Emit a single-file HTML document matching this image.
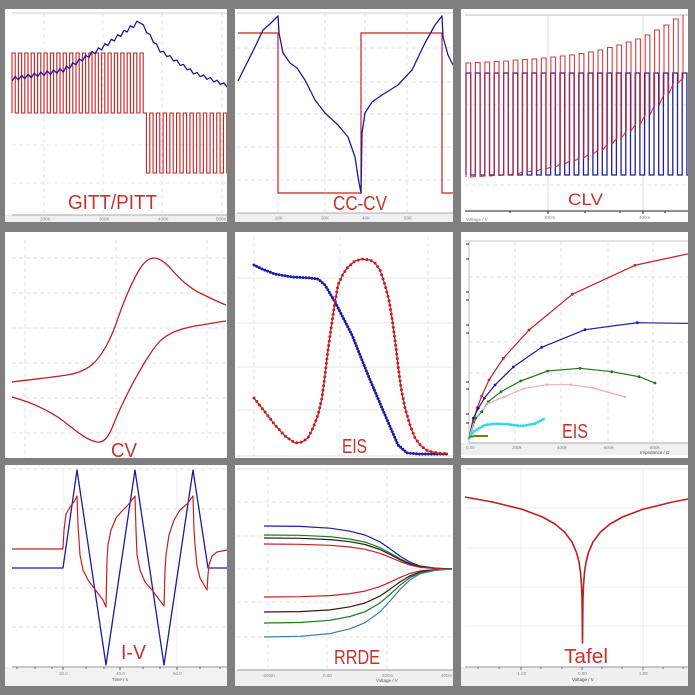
<!DOCTYPE html>
<html><head><meta charset="utf-8"><style>
html,body{margin:0;padding:0;background:#7f7f7f;width:695px;height:695px;overflow:hidden}
svg{display:block}
.t{font-family:"Liberation Sans",sans-serif;fill:#c8322d;font-size:20px}
.s{font-family:"Liberation Sans",sans-serif;fill:#888;font-size:4.5px}
</style></head><body>
<svg width="695" height="695" viewBox="0 0 695 695" xmlns="http://www.w3.org/2000/svg">
<rect width="695" height="695" fill="#7f7f7f"/>

<!-- Panel 1 GITT/PITT -->
<svg x="5" y="9" width="222" height="213" viewBox="5 9 222 213">
<rect x="5" y="9" width="222" height="213" fill="#fff"/>
<line x1="12" y1="13" x2="227" y2="13" stroke="#ccc"/>
<g stroke="#e6e6e6" stroke-dasharray="4 3" fill="none">
<line x1="12" y1="145" x2="227" y2="145"/><line x1="12" y1="183" x2="227" y2="183"/>
<line x1="44" y1="13" x2="44" y2="215"/><line x1="103" y1="13" x2="103" y2="215"/><line x1="162" y1="13" x2="162" y2="215"/><line x1="222" y1="13" x2="222" y2="215"/>
</g>
<rect x="5" y="215" width="222" height="7" fill="#f0f0f0"/>
<line x1="12" y1="215" x2="227" y2="215" stroke="#aaa"/>
<text class="s" x="40" y="220.5">200K</text><text class="s" x="99" y="220.5">300K</text><text class="s" x="158" y="220.5">400K</text><text class="s" x="216" y="220.5">500K</text>
<path fill="none" stroke="#c82020" stroke-width="1.1" d="M12,113v-60h3.2v60h3.2v-60h3.2v60h3.2v-60h3.2v60h3.2v-60h3.2v60h3.2v-60h3.2v60h3.2v-60h3.2v60h3.2v-60h3.2v60h3.2v-60h3.2v60h3.2v-60h3.2v60h3.2v-60h3.2v60h3.2v-60h3.2v60h3.2v-60h3.2v60h3.2v-60h3.2v60h3.2v-60h3.2v60h3.2v-60h3.2v60h3.2v-60h3.2v60h3.2v-60h3.2v60h3.2v-60h3.2v60h3.2v-60h3.2v60h3.2v-60h3.2v60h3.2v-60h3.2v60h3.2v60h3.35v-60h3.35v60h3.35v-60h3.35v60h3.35v-60h3.35v60h3.35v-60h3.35v60h3.35v-60h3.35v60h3.35v-60h3.35v60h3.35v-60h3.35v60h3.35v-60h3.35v60h3.35v-60h3.35v60h3.35v-60h3.35v60h3.35v-60h3.35v60h3.35v-60h3.35v60h3.35v-60h3.35v60h3.35v-60h3.35"/>
<path fill="none" stroke="#1c1c96" stroke-width="1.3" stroke-linejoin="round" d="M12,81l3.2,-4.55l3.2,3.45l3.2,-4.55l3.2,3.45l3.2,-4.55l3.2,3.45l3.2,-4.55l3.2,3.45l3.2,-4.55l3.2,3.45l3.2,-4.55l3.2,3.45l3.2,-4.55l3.2,3.45l3.2,-4.55l3.2,3.45l3.2,-5.85l3.2,2.15l3.2,-5.85l3.2,2.15l3.2,-5.85l3.2,2.15l3.2,-5.85l3.2,2.15l3.2,-5.85l3.2,2.15l3.2,-5.85l3.2,2.15l3.2,-6.25l3.2,1.75l3.2,-6.25l3.2,1.75l3.2,-6.25l3.2,1.75l3.2,-6.25l3.2,1.75l3.2,-6.25l3.2,1.75l3.2,-6.25l3.2,1.75l3.35,1.85l3.35,7.85l3.35,1.85l3.35,7.85l3.35,1.85l3.35,7.85l3.35,-0.8l3.35,5.2l3.35,-0.8l3.35,5.2l3.35,-0.8l3.35,5.2l3.35,-0.8l3.35,5.2l3.35,-0.8l3.35,5.2l3.35,-1.7l3.35,4.3l3.35,-1.7l3.35,4.3l3.35,-1.7l3.35,4.3l3.35,-1.7l3.35,4.3l3.35,-1.7l3.35,4.3"/>
<text class="t" x="68" y="209" textLength="89" lengthAdjust="spacingAndGlyphs">GITT/PITT</text>
</svg>

<!-- Panel 2 CC-CV -->
<svg x="235" y="9" width="218" height="213" viewBox="235 9 218 213">
<rect x="235" y="9" width="218" height="213" fill="#fff"/>
<line x1="237" y1="13" x2="453" y2="13" stroke="#ccc"/>
<g stroke="#e2e2e2" stroke-dasharray="4 3" fill="none">
<line x1="237" y1="48" x2="453" y2="48"/><line x1="237" y1="82" x2="453" y2="82"/><line x1="237" y1="114" x2="453" y2="114"/><line x1="237" y1="147" x2="453" y2="147"/><line x1="237" y1="180" x2="453" y2="180"/>
<line x1="278" y1="13" x2="278" y2="213"/><line x1="325" y1="13" x2="325" y2="213"/><line x1="365" y1="13" x2="365" y2="213"/><line x1="407" y1="13" x2="407" y2="213"/>
</g>
<rect x="235" y="213" width="218" height="9" fill="#f0f0f0"/>
<line x1="237" y1="213" x2="453" y2="213" stroke="#aaa"/>
<text class="s" x="275" y="219.5">20K</text><text class="s" x="321" y="219.5">30K</text><text class="s" x="362" y="219.5">40K</text><text class="s" x="404" y="219.5">50K</text>
<path fill="none" stroke="#c82020" stroke-width="1.2" d="M238,33H278V193H361V33H442V193H453"/>
<polyline fill="none" stroke="#1c1c96" stroke-width="1.3" stroke-linejoin="round" points="238,81 245,67 255,47 263,30 270,24 278,16 279,33 283,53 290,63 297,68 305,80 315,100 325,113 338,125 348,137 355,157 358,177 361,193 362,133 365,113 372,102 382,95 398,85 412,70 425,43 435,25 442,16 443,37 448,55 453,65"/>
<text class="t" x="333" y="210" textLength="54" lengthAdjust="spacingAndGlyphs">CC-CV</text>
</svg>

<!-- Panel 3 CLV -->
<svg x="461" y="9" width="227" height="213" viewBox="461 9 227 213">
<rect x="461" y="9" width="227" height="213" fill="#fff"/>
<line x1="465" y1="15" x2="688" y2="15" stroke="#bbb"/>
<g stroke="#e2e2e2" stroke-dasharray="4 3" fill="none">
<line x1="465" y1="105" x2="688" y2="105"/><line x1="465" y1="185" x2="688" y2="185"/>
</g>
<g stroke="#e0e0e0" fill="none"><line x1="548" y1="15" x2="548" y2="211"/><line x1="643" y1="15" x2="643" y2="211"/></g>
<line x1="465" y1="211" x2="688" y2="211" stroke="#222"/>
<g stroke="#222"><line x1="548" y1="211" x2="548" y2="214"/><line x1="643" y1="211" x2="643" y2="214"/><line x1="510" y1="211" x2="510" y2="213"/><line x1="585" y1="211" x2="585" y2="213"/><line x1="620" y1="211" x2="620" y2="213"/><line x1="665" y1="211" x2="665" y2="213"/></g>
<text class="s" x="544" y="219">300m</text><text class="s" x="639" y="219">400m</text><text class="s" x="466" y="221">Voltage / V</text>
<path fill="none" stroke="#2020a0" stroke-width="1.3" d="M466,175v-102h4.7v102h4.7v-102h4.7v102h4.7v-102h4.7v102h4.7v-102h4.7v102h4.7v-102h4.7v102h4.7v-102h4.7v102h4.7v-102h4.7v102h4.7v-102h4.7v102h4.7v-102h4.7v102h4.7v-102h4.7v102h4.7v-102h4.7v102h4.7v-102h4.7v102h4.7v-102h4.7v102h4.7v-102h4.7v102h4.7v-102h4.7v102h4.7v-102h4.7v102h4.7v-102h4.7v102h4.7v-102h4.7v102h4.7v-102h4.7v102h4.7v-102h4.7v102h4.7v-102h4.7v102h4.7v-102h4.7v102h4.7v-102h4.7v102h4.7v-102h4.7v102h4.7"/>
<path fill="none" stroke="#d02828" stroke-width="1.1" stroke-opacity="0.9" d="M466,177 V63 H470.7 V177 L475.4,176.5 V62.5 H480.1 V176.5 L484.9,176 V62 H489.6 V176 L494.3,175.5 V61.5 H499 V175.5 L503.7,175 V61 H508.4 V175 L513.2,174 V60 H517.9 V174 L522.6,172 V59.5 H527.3 V172 L532,171 V59 H536.7 V171 L541.4,169 V58 H546.1 V169 L550.9,167 V57 H555.6 V167 L560.3,164 V56 H565 V164 L569.7,161 V55 H574.4 V161 L579.2,158 V53.5 H583.9 V158 L588.6,154 V52 H593.3 V154 L598,150 V50 H602.7 V150 L607.5,144 V47.5 H612.2 V144 L616.9,138 V45 H621.6 V138 L626.3,131 V42 H631 V131 L635.7,124 V39 H640.4 V124 L645.2,115 V35 H649.9 V115 L654.6,105 V30 H659.3 V105 L664,94 V25 H668.7 V94 L673.5,83 V19 H678.2 V83 L683,78 V15"/>
<text class="t" x="568" y="205" textLength="35" lengthAdjust="spacingAndGlyphs" style="font-size:17px">CLV</text>
</svg>

<!-- Panel 4 CV -->
<svg x="5" y="232" width="222" height="226" viewBox="5 232 222 226">
<rect x="5" y="232" width="222" height="226" fill="#fff"/>
<g stroke="#e0e0e0" stroke-dasharray="4 3" fill="none">
<line x1="12" y1="258" x2="227" y2="258"/><line x1="12" y1="293" x2="227" y2="293"/><line x1="12" y1="328" x2="227" y2="328"/><line x1="12" y1="363" x2="227" y2="363"/><line x1="12" y1="398" x2="227" y2="398"/><line x1="12" y1="433" x2="227" y2="433"/>
<line x1="25" y1="240" x2="25" y2="458"/><line x1="116" y1="240" x2="116" y2="458"/><line x1="207" y1="240" x2="207" y2="438"/>
</g>
<path fill="none" stroke="#c02020" stroke-width="1.3" stroke-linejoin="round" d="M12,382 C35,379 55,377 67,375 C78,373 87,370 95,362 C104,352 110,340 116,324 C122,306 130,286 138,272 C143,263 148,258 154,258 C160,258 166,263 172,270 C180,279 188,287 200,293 C210,298 218,302 226,305"/>
<path fill="none" stroke="#c02020" stroke-width="1.3" stroke-linejoin="round" d="M12,397 C30,402 48,410 62,420 C75,430 86,440 97,442 C104,443 108,437 112,428 C118,413 126,396 134,381 C142,367 150,352 160,341 C170,332 180,329 195,326 C208,324 218,322 226,321"/>
<text class="t" x="111" y="457" textLength="26" lengthAdjust="spacingAndGlyphs">CV</text>
</svg>

<!-- Panel 5 EIS Bode -->
<svg x="235" y="232" width="218" height="226" viewBox="235 232 218 226">
<rect x="235" y="232" width="218" height="226" fill="#fff"/>
<g stroke="#e6e6e6" fill="none">
<line x1="237" y1="278" x2="453" y2="278"/><line x1="237" y1="323" x2="453" y2="323"/><line x1="237" y1="367" x2="453" y2="367"/><line x1="237" y1="410" x2="453" y2="410"/>
<line x1="254" y1="236" x2="254" y2="456" stroke-dasharray="4 3"/><line x1="340" y1="236" x2="340" y2="456" stroke-dasharray="4 3"/><line x1="428" y1="236" x2="428" y2="456" stroke-dasharray="4 3"/>
</g>
<line x1="237" y1="456" x2="453" y2="456" stroke="#ddd"/>
<g fill="none" stroke-linejoin="round">
<polyline stroke="#1c1ca0" stroke-width="1.2" points="254,265 262,269 275,274 292,277 310,278 318,279 325,285 335,302 352,335 368,375 385,415 398,445 407,453 420,454 448,454"/>
<polyline stroke="#1c1ca0" stroke-width="3" stroke-linecap="round" stroke-dasharray="0 3" points="254,265 262,269 275,274 292,277 310,278 318,279 325,285 335,302 352,335 368,375 385,415 398,445 407,453 420,454 448,454"/>
<polyline stroke="#c82020" stroke-width="1.2" points="254,398 265,412 275,425 285,436 295,443 302,442 308,438 313,428 318,415 322,398 325,375 328,350 332,322 335,302 338,285 343,274 348,267 355,261 362,259 370,260 375,263 380,270 385,285 389,300 392,318 395,340 398,365 401,388 405,408 410,425 415,438 421,446 428,451 438,453 448,454"/>
<polyline stroke="#c82020" stroke-width="3" stroke-linecap="round" stroke-dasharray="0 4.5" points="254,398 265,412 275,425 285,436 295,443 302,442 308,438 313,428 318,415 322,398 325,375 328,350 332,322 335,302 338,285 343,274 348,267 355,261 362,259 370,260 375,263 380,270 385,285 389,300 392,318 395,340 398,365 401,388 405,408 410,425 415,438 421,446 428,451 438,453 448,454"/>
</g>
<text class="t" x="342" y="453" textLength="25" lengthAdjust="spacingAndGlyphs">EIS</text>
</svg>

<!-- Panel 6 EIS Nyquist -->
<svg x="461" y="232" width="227" height="226" viewBox="461 232 227 226">
<rect x="461" y="232" width="227" height="226" fill="#fff"/>
<line x1="465" y1="241" x2="688" y2="241" stroke="#ccc"/>
<g stroke="#e2e2e2" stroke-dasharray="4 3" fill="none">
<line x1="469" y1="277" x2="688" y2="277"/><line x1="469" y1="342" x2="688" y2="342"/><line x1="469" y1="373" x2="688" y2="373"/>
<line x1="515" y1="241" x2="515" y2="443"/><line x1="561" y1="241" x2="561" y2="443"/><line x1="608" y1="241" x2="608" y2="443"/><line x1="653" y1="241" x2="653" y2="443"/>
</g>
<line x1="469" y1="241" x2="469" y2="443" stroke="#bbb"/>
<g stroke="#222"><line x1="466" y1="244" x2="469" y2="244"/><line x1="466" y1="259" x2="469" y2="259"/><line x1="466" y1="292" x2="469" y2="292"/><line x1="466" y1="300" x2="469" y2="300"/><line x1="466" y1="325" x2="469" y2="325"/><line x1="466" y1="333" x2="469" y2="333"/><line x1="466" y1="382" x2="469" y2="382"/><line x1="466" y1="389" x2="469" y2="389"/><line x1="466" y1="414" x2="469" y2="414"/><line x1="466" y1="423" x2="469" y2="423"/></g>
<rect x="461" y="443" width="227" height="12" fill="#f0f0f0"/>
<line x1="469" y1="443" x2="688" y2="443" stroke="#aaa"/>
<text class="s" x="466" y="449">0.00</text><text class="s" x="512" y="449">200k</text><text class="s" x="557" y="449">400k</text><text class="s" x="604" y="449">600k</text><text class="s" x="650" y="449">800k</text><text class="s" x="640" y="454" style="fill:#555">Impedance / Ω</text>
<g fill="none" stroke-width="1.2" stroke-linejoin="round">
<polyline stroke="#c82020" points="469,438.3 473.3,421.7 477.3,407.7 481.7,396 489,380 503.3,358.3 529,330 572.3,294.3 635,265.3 682.7,255 688,254"/>
<polyline stroke="#1c1ca0" points="469,438.3 473.3,418.3 478.3,408.3 484.3,398.3 495,385 513.3,367 541.7,347.3 585,329.7 637.3,322.7 682.7,323.3 688,323.3"/>
<polyline stroke="#1e7a1e" points="469,438.3 475.7,418.3 481.7,411.7 488.3,401.7 501,391.7 520.7,381 547.7,371 580,368.3 611.7,371.7 639,376.7 655,383"/>
<polyline stroke="#eab0b8" points="469,438.3 475,418.3 488.3,403.3 504.3,396.7 523.3,388.7 546.7,384.7 570.7,384.7 593.3,388 625,397"/>
<polyline stroke="#30d8e8" stroke-width="1.6" points="469,438.3 473.3,431.7 485,425 495,423.7 508.3,424.3 521.7,426 535,423.7 545,418.3"/>
<polyline stroke="#30d8e8" stroke-width="3" stroke-linecap="round" stroke-dasharray="0 3" points="469,438.3 473.3,431.7 485,425 495,423.7 508.3,424.3 521.7,426 535,423.7 545,418.3"/>
<polyline stroke="#7a7a10" stroke-width="2" points="469,437 475,436 488,436"/>
</g>
<g fill="#c82020"><circle cx="473.3" cy="421.7" r="1.4"/><circle cx="477.3" cy="407.7" r="1.4"/><circle cx="481.7" cy="396" r="1.4"/><circle cx="489" cy="380" r="1.4"/><circle cx="503.3" cy="358.3" r="1.4"/><circle cx="529" cy="330" r="1.4"/><circle cx="572.3" cy="294.3" r="1.4"/><circle cx="635" cy="265.3" r="1.4"/></g>
<g fill="#1c1ca0"><circle cx="473.3" cy="418.3" r="1.4"/><circle cx="478.3" cy="408.3" r="1.4"/><circle cx="484.3" cy="398.3" r="1.4"/><circle cx="495" cy="385" r="1.4"/><circle cx="513.3" cy="367" r="1.4"/><circle cx="541.7" cy="347.3" r="1.4"/><circle cx="585" cy="329.7" r="1.4"/><circle cx="637.3" cy="322.7" r="1.4"/></g>
<g fill="#1e7a1e"><circle cx="475.7" cy="418.3" r="1.4"/><circle cx="481.7" cy="411.7" r="1.4"/><circle cx="488.3" cy="401.7" r="1.4"/><circle cx="501" cy="391.7" r="1.4"/><circle cx="520.7" cy="381" r="1.4"/><circle cx="547.7" cy="371" r="1.4"/><circle cx="580" cy="368.3" r="1.4"/><circle cx="611.7" cy="371.7" r="1.4"/><circle cx="639" cy="376.7" r="1.4"/><circle cx="655" cy="383" r="1.4"/></g>
<g fill="#eab0b8"><circle cx="488.3" cy="403.3" r="1.2"/><circle cx="504.3" cy="396.7" r="1.2"/><circle cx="523.3" cy="388.7" r="1.2"/><circle cx="546.7" cy="384.7" r="1.2"/><circle cx="570.7" cy="384.7" r="1.2"/><circle cx="593.3" cy="388" r="1.2"/><circle cx="625" cy="397" r="1.2"/></g>
<text class="t" x="562" y="438" textLength="26" lengthAdjust="spacingAndGlyphs">EIS</text>
</svg>

<!-- Panel 7 I-V -->
<svg x="5" y="465" width="222" height="221" viewBox="5 465 222 221">
<rect x="5" y="465" width="222" height="221" fill="#fff"/>
<g stroke="#e0e0e0" stroke-dasharray="4 3" fill="none">
<line x1="12" y1="469" x2="227" y2="469"/><line x1="12" y1="509" x2="227" y2="509"/><line x1="12" y1="588" x2="227" y2="588"/><line x1="12" y1="627" x2="227" y2="627"/>
</g>
<g stroke="#eee" fill="none"><line x1="63" y1="469" x2="63" y2="667"/><line x1="177" y1="469" x2="177" y2="667"/></g>
<rect x="5" y="667" width="222" height="19" fill="#f2f2f2"/>
<line x1="12" y1="667" x2="227" y2="667" stroke="#999"/>
<g stroke="#666"><line x1="17" y1="667" x2="17" y2="669"/><line x1="35" y1="667" x2="35" y2="669"/><line x1="52" y1="667" x2="52" y2="669"/><line x1="63" y1="667" x2="63" y2="670"/><line x1="86" y1="667" x2="86" y2="669"/><line x1="104" y1="667" x2="104" y2="669"/><line x1="120" y1="667" x2="120" y2="670"/><line x1="143" y1="667" x2="143" y2="669"/><line x1="160" y1="667" x2="160" y2="669"/><line x1="177" y1="667" x2="177" y2="670"/><line x1="200" y1="667" x2="200" y2="669"/><line x1="220" y1="667" x2="220" y2="669"/></g>
<text class="s" x="59" y="675">20.0</text><text class="s" x="116" y="675">40.0</text><text class="s" x="173" y="675">60.0</text><text class="s" x="112" y="681" style="fill:#555">Time / s</text>
<path fill="none" stroke="#1c1ca0" stroke-width="1.3" stroke-linejoin="round" d="M12,568H63L77,470L106,665L135,470L164,665L193,470L208,568H227"/>
<polyline fill="none" stroke="#c82020" stroke-width="1.2" stroke-linejoin="round" points="12,549 63,549 64,530 66,514 70,507 74,502 77,496 78,525 80,555 83,570 88,580 97,592 103,600 106,607 107,560 108,545 111,530 116,518 122,511 128,505 135,496 136,530 137,555 140,570 145,582 152,590 158,598 164,606 165,570 166,555 169,535 174,520 180,510 187,504 193,496 194,530 195,545 197,566 200,578 204,585 207,590 208,575 209,565 212,556 217,552 227,550"/>
<text class="t" x="121" y="659" textLength="25" lengthAdjust="spacingAndGlyphs">I-V</text>
</svg>

<!-- Panel 8 RRDE -->
<svg x="235" y="465" width="218" height="221" viewBox="235 465 218 221">
<rect x="235" y="465" width="218" height="221" fill="#fff"/>
<line x1="237" y1="469" x2="453" y2="469" stroke="#ddd"/>
<g stroke="#e4e4e4" stroke-dasharray="4 3" fill="none">
<line x1="237" y1="502" x2="453" y2="502"/><line x1="237" y1="536" x2="453" y2="536"/><line x1="237" y1="569" x2="453" y2="569"/><line x1="237" y1="602" x2="453" y2="602"/><line x1="237" y1="637" x2="453" y2="637"/>
<line x1="268" y1="469" x2="268" y2="670"/><line x1="327" y1="469" x2="327" y2="670"/><line x1="387" y1="469" x2="387" y2="670"/>
</g>
<rect x="235" y="670" width="218" height="16" fill="#f0f0f0"/>
<line x1="237" y1="670" x2="453" y2="670" stroke="#999"/>
<text class="s" x="262" y="677">-200m</text><text class="s" x="323" y="677">0.00</text><text class="s" x="382" y="677">200m</text><text class="s" x="441" y="677">400m</text><text class="s" x="376" y="682" style="fill:#555">Voltage / V</text>
<g fill="none" stroke-width="1.2" stroke-linejoin="round">
<polyline stroke="#1c1ca0" points="264,526 300,526.4 330,528.2 350,531.2 365,535 380,541.9 390,548.8 400,556.1 410,562.1 420,566 435,568.1 452,569"/>
<polyline stroke="#1e7a1e" points="264,535 300,535.3 330,536.7 350,539.1 365,542.1 380,547.6 390,553 400,558.8 410,563.6 420,566.6 435,568.3 452,569"/>
<polyline stroke="#222" points="264,538 300,538.3 330,539.6 350,541.7 365,544.5 380,549.5 390,554.4 400,559.7 410,564 420,566.8 435,568.4 452,569"/>
<polyline stroke="#c82020" points="264,544 300,544.3 330,545.3 350,547 365,549.3 380,553.3 390,557.3 400,561.5 410,565 420,567.3 435,568.5 452,569"/>
<polyline stroke="#c82020" points="264,597 300,596.7 330,595.6 350,593.6 365,591.1 380,586.6 390,582.2 400,577.4 410,573.5 420,571 435,569.6 452,569"/>
<polyline stroke="#3a1414" points="264,612 300,611.6 330,609.9 350,606.8 365,603 380,596.1 390,589.2 400,581.9 410,575.9 420,572 435,569.9 452,569"/>
<polyline stroke="#1e7a1e" points="264,623 300,622.5 330,620.3 350,616.5 365,611.7 380,603 390,594.4 400,585.2 410,577.6 420,572.8 435,570.1 452,569"/>
<polyline stroke="#3c7ab0" points="264,637 300,636.3 330,633.6 350,628.8 365,622.7 380,611.8 390,601 400,589.4 410,579.9 420,573.8 435,570.4 452,569"/>
</g>
<text class="t" x="334" y="664" textLength="46" lengthAdjust="spacingAndGlyphs">RRDE</text>
</svg>

<!-- Panel 9 Tafel -->
<svg x="461" y="465" width="227" height="221" viewBox="461 465 227 221">
<rect x="461" y="465" width="227" height="221" fill="#fff"/>
<line x1="465" y1="469" x2="688" y2="469" stroke="#ddd"/>
<g stroke="#ececec" fill="none">
<line x1="465" y1="508" x2="688" y2="508"/><line x1="465" y1="548" x2="688" y2="548"/><line x1="465" y1="587" x2="688" y2="587"/><line x1="465" y1="626" x2="688" y2="626"/>
<line x1="521" y1="469" x2="521" y2="667"/><line x1="643" y1="469" x2="643" y2="667"/>
</g>
<rect x="461" y="667" width="227" height="19" fill="#f0f0f0"/>
<line x1="465" y1="667" x2="688" y2="667" stroke="#999"/>
<g stroke="#777"><line x1="478" y1="667" x2="478" y2="669"/><line x1="499" y1="667" x2="499" y2="669"/><line x1="521" y1="667" x2="521" y2="670"/><line x1="541" y1="667" x2="541" y2="669"/><line x1="562" y1="667" x2="562" y2="669"/><line x1="582" y1="667" x2="582" y2="670"/><line x1="602" y1="667" x2="602" y2="669"/><line x1="622" y1="667" x2="622" y2="669"/><line x1="643" y1="667" x2="643" y2="670"/><line x1="663" y1="667" x2="663" y2="669"/><line x1="683" y1="667" x2="683" y2="669"/></g>
<text class="s" x="516" y="675">-1.00</text><text class="s" x="578" y="675">0.00</text><text class="s" x="639" y="675">1.00</text><text class="s" x="572" y="681" style="fill:#444">Voltage / V</text>
<polyline fill="none" stroke="#c02020" stroke-width="1.6" stroke-linejoin="round" points="465,497 492.5,502 522.5,509.4 542.5,517 555,524 564.5,532 572,542 576.5,552.5 579,562 580.5,572.4 581.5,585.6 582,598.5 582.5,643 583,598.5 583.5,585.6 584.5,572.4 586,562 588.5,552.5 593,542 600.5,532 610,524 622.5,517 642.5,509.4 672.5,502 683,500 688,499"/>
<text class="t" x="564" y="663" textLength="44" lengthAdjust="spacingAndGlyphs">Tafel</text>
</svg>

</svg>
</body></html>
